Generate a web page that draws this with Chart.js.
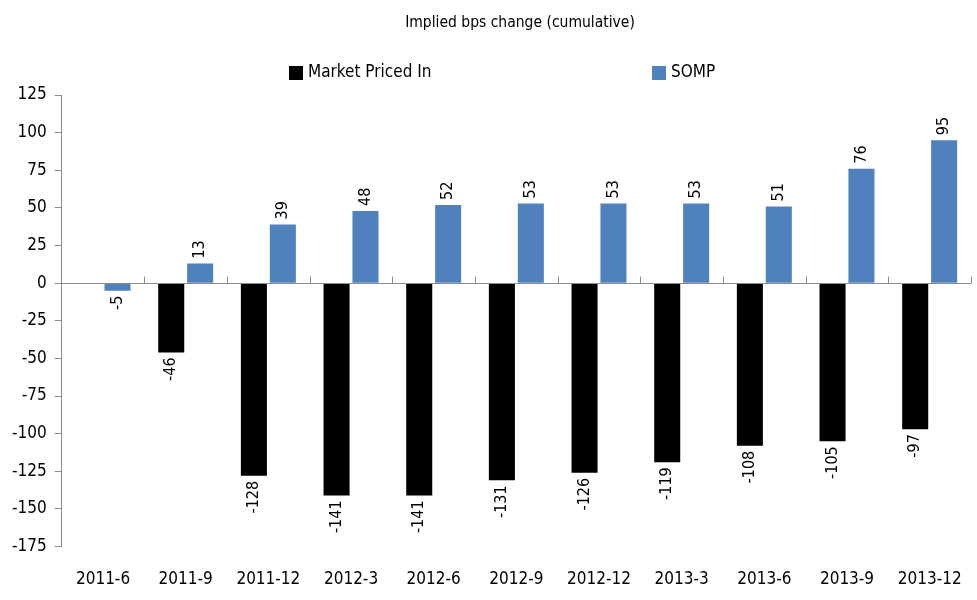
<!DOCTYPE html>
<html>
<head>
<meta charset="utf-8">
<script src="https://cdn.jsdelivr.net/npm/chart.js@4/dist/chart.umd.min.js"></script>
<style>
  html, body { margin: 0; padding: 0; background: #fff; }
  #wrap { position: relative; width: 977px; height: 600px; }
</style>
</head>
<body>
<div id="wrap"><canvas id="chart" width="977" height="600"></canvas></div>
<script>
// Data
const categories = ["2011-6", "2011-9", "2011-12", "2012-3", "2012-6", "2012-9",
    "2012-12", "2013-3", "2013-6", "2013-9", "2013-12"];
const marketPricedIn = [null, -46, -128, -141, -141, -131, -126, -119, -108, -105, -97];
const somp = [-5, 13, 39, 48, 52, 53, 53, 53, 51, 76, 95];

const FONT = "'Liberation Sans Narrow', 'DejaVu Sans Condensed', 'Arial Narrow', sans-serif";
const AXIS_GRAY = "#8c8c8c";

// Rotated value labels above / below each bar
const barLabels = {
    id: "barLabels",
    afterDatasetsDraw(chart) {
        const ctx = chart.ctx;
        ctx.save();
        ctx.font = `16px ${FONT}`;
        ctx.fillStyle = "#000";
        ctx.textBaseline = "middle";
        chart.data.datasets.forEach((ds, di) => {
            const meta = chart.getDatasetMeta(di);
            meta.data.forEach((bar, i) => {
                const v = ds.data[i];
                if (v === null || v === undefined) return;
                ctx.save();
                if (v >= 0) {
                    ctx.translate(bar.x, bar.y - 5);
                    ctx.rotate(-Math.PI / 2);
                    ctx.textAlign = "left";
                } else {
                    ctx.translate(bar.x, bar.y + 5);
                    ctx.rotate(-Math.PI / 2);
                    ctx.textAlign = "right";
                }
                ctx.fillText(String(v), 0, 0);
                ctx.restore();
            });
        });
        ctx.restore();
    },
};

// Category axis drawn at zero, with small tick marks between categories
const zeroAxis = {
    id: "zeroAxis",
    afterDatasetsDraw(chart) {
        const { ctx, chartArea, scales } = chart;
        const y0 = Math.round(scales.y.getPixelForValue(0)) + 0.5;
        const step = (chartArea.right - chartArea.left) / categories.length;
        ctx.save();
        ctx.strokeStyle = AXIS_GRAY;
        ctx.lineWidth = 1;
        ctx.beginPath();
        ctx.moveTo(chartArea.left, y0);
        ctx.lineTo(chartArea.right, y0);
        for (let i = 1; i <= categories.length; i++) {
            const x = Math.round(chartArea.left + step * i) + 0.5;
            ctx.moveTo(x, y0);
            ctx.lineTo(x, y0 - 7);
        }
        ctx.stroke();
        ctx.restore();
    },
};

// Title and the widely spaced legend row
const header = {
    id: "header",
    afterDraw(chart) {
        const ctx = chart.ctx;
        ctx.save();
        ctx.fillStyle = "#000";
        ctx.textBaseline = "middle";
        ctx.font = `15.5px ${FONT}`;
        ctx.textAlign = "center";
        ctx.fillText("Implied bps change (cumulative)", 520, 23);

        ctx.font = `17px ${FONT}`;
        ctx.textAlign = "left";
        const items = [
            { x: 289, text: "Market Priced In", color: "#000000" },
            { x: 652, text: "SOMP", color: "#4f81bd" },
        ];
        items.forEach((it) => {
            ctx.fillStyle = it.color;
            ctx.fillRect(it.x, 66, 14, 14);
            ctx.fillStyle = "#000";
            ctx.fillText(it.text, it.x + 19, 73);
        });
        ctx.restore();
    },
};

new Chart(document.getElementById("chart"), {
    type: "bar",
    data: {
        labels: categories,
        datasets: [
            {
                label: "Market Priced In",
                data: marketPricedIn,
                backgroundColor: "#000000",
                categoryPercentage: 0.7,
                barPercentage: 0.9,
            },
            {
                label: "SOMP",
                data: somp,
                backgroundColor: "#4f81bd",
                categoryPercentage: 0.7,
                barPercentage: 0.9,
            },
        ],
    },
    options: {
        responsive: false,
        animation: false,
        layout: { padding: { top: 95, right: 6, left: 4, bottom: -13 } },
        plugins: {
            legend: { display: false },
            title: { display: false },
            tooltip: { enabled: false },
        },
        scales: {
            x: {
                grid: { display: false, drawTicks: false },
                border: { display: false },
                ticks: {
                    color: "#000",
                    font: { family: FONT, size: 17 },
                    padding: 23,
                    maxRotation: 0,
                },
                afterFit: (scale) => {
                    scale.paddingRight = 0;
                },
            },
            y: {
                min: -175,
                max: 125,
                border: { display: true, color: AXIS_GRAY },
                grid: {
                    color: "transparent",
                    tickColor: AXIS_GRAY,
                    tickLength: 7,
                },
                ticks: {
                    stepSize: 25,
                    color: "#000",
                    font: { family: FONT, size: 17 },
                    padding: 8,
                },
            },
        },
    },
    plugins: [barLabels, zeroAxis, header],
});
</script>
</body>
</html>
